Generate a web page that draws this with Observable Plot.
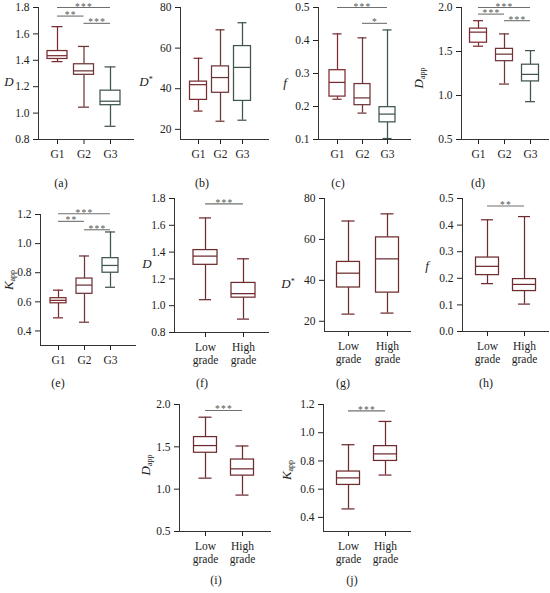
<!DOCTYPE html>
<html><head><meta charset="utf-8">
<script src="https://cdn.jsdelivr.net/npm/d3@7"></script>
<script src="https://cdn.jsdelivr.net/npm/@observablehq/plot@0.6"></script>
<style>
body{margin:0;background:#fff;}
#root{position:relative;width:550px;height:593px;overflow:hidden;font-family:"Liberation Serif",serif;}
.panel{position:absolute;}
.panel svg{overflow:visible;}
.cap{position:absolute;font-size:12px;transform:translate(-50%,-50%);color:#222;white-space:nowrap;line-height:1}
.ylab{position:absolute;font-size:13px;transform:translate(-50%,-50%);color:#222;white-space:nowrap;line-height:1}
.ylab.rot{transform:translate(-50%,-50%) rotate(-90deg);}
.ylab sub{font-size:8px;vertical-align:-2px}
.ylab sup{font-size:8px;vertical-align:4px}
g[aria-label="text"] text{letter-spacing:1.2px}
</style></head><body><div id="root"></div>
<script>
// categories
const groups = ["G1", "G2", "G3"];
const grades = ["Low grade", "High grade"];
const groupColors = ["#7b2c30", "#6f3538", "#405649"];
const gradeColors = ["#6f2c30", "#6f2c30"];
// five-number summaries per category: [min, q1, median, q3, max]
const statsA = [[1.39, 1.41, 1.435, 1.47, 1.655], [1.045, 1.29, 1.32, 1.37, 1.505], [0.90, 1.06, 1.09, 1.17, 1.35]];
const statsB = [[29, 34.5, 42, 43.5, 55], [24, 38, 45.5, 51, 69], [24.5, 34, 50.5, 61, 72.5]];
const statsC = [[0.222, 0.23, 0.273, 0.31, 0.42], [0.18, 0.204, 0.226, 0.268, 0.408], [0.103, 0.152, 0.177, 0.198, 0.432]];
const statsD = [[1.56, 1.60, 1.72, 1.76, 1.85], [1.13, 1.39, 1.47, 1.53, 1.70], [0.93, 1.16, 1.24, 1.35, 1.51]];
const statsE = [[0.49, 0.59, 0.61, 0.625, 0.68], [0.46, 0.655, 0.715, 0.76, 0.915], [0.70, 0.80, 0.85, 0.90, 1.08]];
const statsF = [[1.045, 1.305, 1.37, 1.415, 1.655], [0.90, 1.06, 1.09, 1.17, 1.35]];
const statsG = [[23.5, 36.5, 43.5, 49, 69], [24, 34, 50.5, 61, 72.5]];
const statsH = [[0.18, 0.212, 0.245, 0.278, 0.42], [0.103, 0.152, 0.177, 0.197, 0.432]];
const statsI = [[1.13, 1.43, 1.515, 1.615, 1.85], [0.93, 1.16, 1.24, 1.35, 1.51]];
const statsJ = [[0.46, 0.63, 0.68, 0.725, 0.915], [0.70, 0.80, 0.85, 0.905, 1.08]];
// significance brackets: [from, to, level, stars]
const sigA = [["G1", "G3", 1.8, "***"], ["G1", "G2", 1.735, "**"], ["G2", "G3", 1.68, "***"]];
const sigC = [["G1", "G3", 0.5, "***"], ["G2", "G3", 0.452, "*"]];
const sigD = [["G1", "G3", 2.0, "***"], ["G1", "G2", 1.925, "***"], ["G2", "G3", 1.85, "***"]];
const sigE = [["G1", "G3", 1.205, "***"], ["G1", "G2", 1.153, "**"], ["G2", "G3", 1.095, "***"]];
const sigF = [["Low grade", "High grade", 1.76, "***"]];
const sigH = [["Low grade", "High grade", 0.472, "**"]];
const sigI = [["Low grade", "High grade", 1.93, "***"]];
const sigJ = [["Low grade", "High grade", 1.155, "***"]];
// tick values
const ticksD = [0.8, 1.0, 1.2, 1.4, 1.6, 1.8];
const ticksDstar = [20, 40, 60, 80];
const ticksF3 = [0.1, 0.2, 0.3, 0.4, 0.5];
const ticksF2 = [0.0, 0.1, 0.2, 0.3, 0.4, 0.5];
const ticksDapp = [0.5, 1.0, 1.5, 2.0];
const ticksKapp = [0.4, 0.6, 0.8, 1.0, 1.2];

const root = document.getElementById("root");

function panel(c) {
  const n = c.cats.length;
  const left = c.axisX - 40, top = c.topY - 14;
  const mL = 40, mT = 14, mR = 2, mB = c.twoLine ? 40 : 28;
  const width = c.rightEnd - left + mR;
  const height = c.axisY - top + mB;
  const [xFirst, xLast] = c.catX;
  const step = (xLast - xFirst) / (n - 1);
  const bw = c.boxW / step / 2, cw = c.capW / step / 2;
  const rows = c.stats.map((s, i) => ({i, min: s[0], q1: s[1], med: s[2], q3: s[3], max: s[4], color: c.colors[i]}));
  const sigRows = (c.sig || []).map(([a, b, y, label]) => ({x1: c.cats.indexOf(a), x2: c.cats.indexOf(b), y, label}));
  const sw = 1.25;
  const svg = Plot.plot({
    width, height, marginLeft: mL, marginRight: mR, marginTop: mT, marginBottom: mB,
    style: {fontFamily: "'Liberation Serif', serif", fontSize: "11.5px", color: "#222", overflow: "visible", background: "transparent"},
    x: {type: "linear", domain: [0, n - 1], range: [xFirst - left, xLast - left]},
    y: {domain: c.domain},
    color: {type: "identity"},
    marks: [
      Plot.frame({anchor: "left", stroke: "#333"}),
      Plot.frame({anchor: "bottom", stroke: "#333"}),
      Plot.axisY({ticks: c.ticks, tickFormat: c.fmt, tickSize: 5, tickPadding: 4, label: null}),
      Plot.axisX({ticks: d3.range(n), tickFormat: i => c.twoLine ? c.cats[i].replace(" ", "\n") : c.cats[i], tickSize: 5, tickPadding: 4, label: null, lineHeight: 1.15}),
      Plot.ruleX(rows, {x: "i", y1: "q3", y2: "max", stroke: "color", strokeWidth: sw}),
      Plot.ruleX(rows, {x: "i", y1: "min", y2: "q1", stroke: "color", strokeWidth: sw}),
      Plot.ruleY(rows, {y: "max", x1: d => d.i - cw, x2: d => d.i + cw, stroke: "color", strokeWidth: sw}),
      Plot.ruleY(rows, {y: "min", x1: d => d.i - cw, x2: d => d.i + cw, stroke: "color", strokeWidth: sw}),
      Plot.rect(rows, {x1: d => d.i - bw, x2: d => d.i + bw, y1: "q1", y2: "q3", fill: "white", stroke: "color", strokeWidth: sw}),
      Plot.ruleY(rows, {y: "med", x1: d => d.i - bw, x2: d => d.i + bw, stroke: "color", strokeWidth: sw}),
      Plot.ruleY(sigRows, {y: "y", x1: "x1", x2: "x2", stroke: "#707070", strokeWidth: 1.1}),
      Plot.text(sigRows, {x: d => (d.x1 + d.x2) / 2, y: "y", text: "label", lineAnchor: "bottom", dy: 2, fill: "#555", fontSize: 9.5})
    ]
  });
  const div = document.createElement("div");
  div.className = "panel";
  div.style.left = left + "px";
  div.style.top = top + "px";
  div.appendChild(svg);
  root.appendChild(div);
  const cap = document.createElement("div");
  cap.className = "cap";
  cap.textContent = c.caption;
  cap.style.left = c.capX + "px";
  cap.style.top = c.capY + "px";
  root.appendChild(cap);
  const yl = document.createElement("div");
  yl.className = "ylab" + (c.rot ? " rot" : "");
  yl.innerHTML = c.ylabel;
  yl.style.left = c.ylX + "px";
  yl.style.top = c.ylY + "px";
  root.appendChild(yl);
}

const f1 = d3.format(".1f"), f0 = d3.format("d");
const LD = "<i>D</i>", LDs = "<i>D</i><sup>*</sup>", Lf = "<i>f</i>";
const LDapp = "<i>D</i><sub>app</sub>", LKapp = "<i>K</i><sub>app</sub>";

panel({cats: groups, stats: statsA, colors: groupColors, sig: sigA, ticks: ticksD, fmt: f1, domain: [0.8, 1.8],
  axisX: 38, rightEnd: 133, catX: [57, 110], topY: 7, axisY: 139, boxW: 20, capW: 11,
  caption: "(a)", capX: 61, capY: 183, ylabel: LD, ylX: 9, ylY: 81});
panel({cats: groups, stats: statsB, colors: groupColors, ticks: ticksDstar, fmt: f0, domain: [15, 80],
  axisX: 180, rightEnd: 268, catX: [198, 242], topY: 7, axisY: 139, boxW: 17, capW: 9,
  caption: "(b)", capX: 202, capY: 183, ylabel: LDs, ylX: 146, ylY: 81});
panel({cats: groups, stats: statsC, colors: groupColors, sig: sigC, ticks: ticksF3, fmt: f1, domain: [0.1, 0.5],
  axisX: 318, rightEnd: 410, catX: [337, 387], topY: 7, axisY: 139, boxW: 16, capW: 9,
  caption: "(c)", capX: 338, capY: 183, ylabel: Lf, ylX: 285, ylY: 82});
panel({cats: groups, stats: statsD, colors: groupColors, sig: sigD, ticks: ticksDapp, fmt: f1, domain: [0.5, 2.0],
  axisX: 461, rightEnd: 548, catX: [478, 530], topY: 7, axisY: 139, boxW: 17, capW: 10,
  caption: "(d)", capX: 478, capY: 183, ylabel: LDapp, ylX: 419, ylY: 78, rot: true});

panel({cats: groups, stats: statsE, colors: groupColors, sig: sigE, ticks: ticksKapp, fmt: f1, domain: [0.3, 1.2],
  axisX: 40, rightEnd: 135, catX: [58, 110], topY: 214, axisY: 345, boxW: 16, capW: 10,
  caption: "(e)", capX: 58, capY: 383, ylabel: LKapp, ylX: 9, ylY: 280, rot: true});
panel({cats: grades, stats: statsF, colors: gradeColors, sig: sigF, ticks: ticksD, fmt: f1, domain: [0.8, 1.8], twoLine: true,
  axisX: 174, rightEnd: 268, catX: [205, 243], topY: 198, axisY: 332, boxW: 24, capW: 12,
  caption: "(f)", capX: 202, capY: 383, ylabel: LD, ylX: 147, ylY: 263});
panel({cats: grades, stats: statsG, colors: gradeColors, ticks: ticksDstar, fmt: f0, domain: [15, 80], twoLine: true,
  axisX: 324, rightEnd: 410, catX: [348, 387], topY: 198, axisY: 331, boxW: 23, capW: 13,
  caption: "(g)", capX: 343, capY: 383, ylabel: LDs, ylX: 288, ylY: 283});
panel({cats: grades, stats: statsH, colors: gradeColors, sig: sigH, ticks: ticksF2, fmt: f1, domain: [0, 0.5], twoLine: true,
  axisX: 462, rightEnd: 548, catX: [487, 524], topY: 198, axisY: 331, boxW: 23, capW: 12,
  caption: "(h)", capX: 486, capY: 383, ylabel: Lf, ylX: 427, ylY: 265});

panel({cats: grades, stats: statsI, colors: gradeColors, sig: sigI, ticks: ticksDapp, fmt: f1, domain: [0.5, 2.0], twoLine: true,
  axisX: 179, rightEnd: 270, catX: [205, 242], topY: 404, axisY: 531, boxW: 23, capW: 13,
  caption: "(i)", capX: 216, capY: 580, ylabel: LDapp, ylX: 146, ylY: 465, rot: true});
panel({cats: grades, stats: statsJ, colors: gradeColors, sig: sigJ, ticks: ticksKapp, fmt: f1, domain: [0.3, 1.2], twoLine: true,
  axisX: 323, rightEnd: 410, catX: [348, 385], topY: 404, axisY: 531, boxW: 23, capW: 13,
  caption: "(j)", capX: 352, capY: 580, ylabel: LKapp, ylX: 287, ylY: 470, rot: true});
</script>
</body></html>
